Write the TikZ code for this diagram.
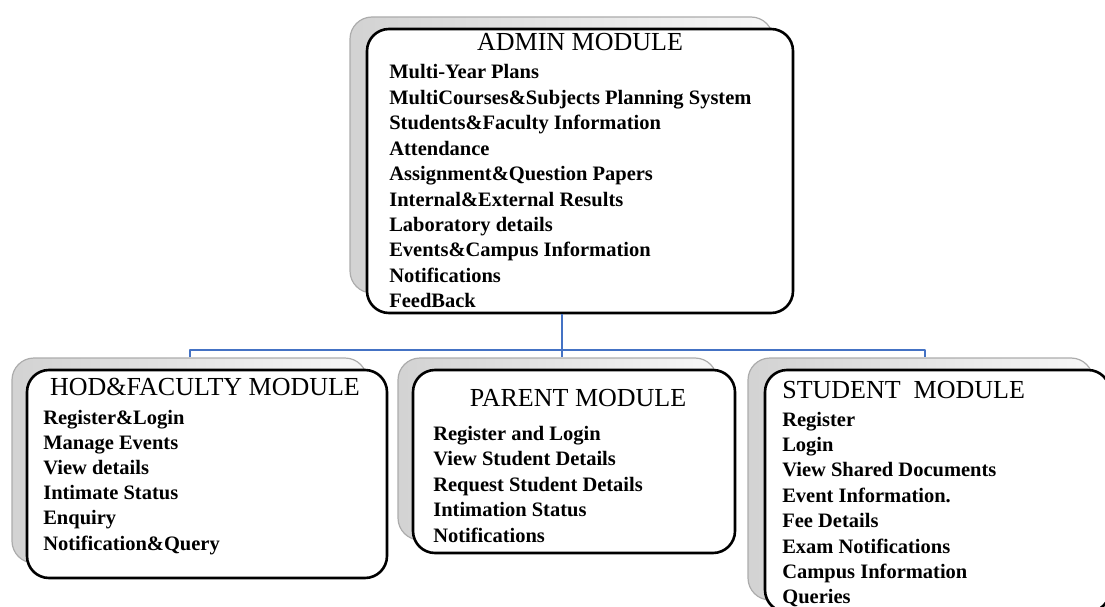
\documentclass[tikz,border=0pt]{standalone}
\usepackage{fontspec}
\setmainfont{Liberation Serif}
\definecolor{linkblue}{RGB}{68,114,196}

\begin{document}
\begin{tikzpicture}[x=1pt,y=-1pt,line join=round,
                    semithick]
  \tikzstyle{module}=[draw=black,line width=2.6pt,fill=white,rounded corners=22pt,inner sep=0pt]
  \tikzstyle{back}=[draw=gray!65,line width=1.2pt,left color=gray!35,right color=gray!6,rounded corners=22pt,inner sep=0pt]
  \tikzstyle{heading}=[anchor=base,inner sep=0pt,font=\fontsize{26}{26}\selectfont]
  \tikzstyle{entry}=[anchor=base west,inner sep=0pt,font=\fontsize{20.5}{20.5}\selectfont\bfseries]
  \tikzstyle{link}=[draw=linkblue,line width=2.4pt]

  \useasboundingbox (0,0) rectangle (1105,607);
  \clip (0,0) rectangle (1105,607);

  % boxes, each with its grey back plate
  \node[back,minimum width=423pt,minimum height=276pt]   (adminback) at (561.5,155)   {};
  \node[module,minimum width=426pt,minimum height=284pt] (admin)     at (580,171)     {};
  \node[back,minimum width=355pt,minimum height=205pt]   (hodback)   at (189.5,460.5) {};
  \node[module,minimum width=360pt,minimum height=208pt] (hod)       at (207,474)     {};
  \node[back,minimum width=319pt,minimum height=182pt]   (parback)   at (557.5,449)   {};
  \node[module,minimum width=322pt,minimum height=183pt] (parent)    at (574,461.5)   {};
  \node[back,minimum width=345pt,minimum height=242pt]   (stuback)   at (920.5,479)   {};
  \node[module,minimum width=345pt,minimum height=242pt] (student)   at (937.5,491)   {};

  % titles
  \node[heading]                  (admintitle) at (580,51)  {ADMIN MODULE};
  \node[heading]                  (hodtitle)   at (205,395) {HOD\&FACULTY MODULE};
  \node[heading]                  (partitle)   at (578,406) {PARENT MODULE};
  \node[heading,anchor=base west] (stutitle)   at (782,398) {STUDENT\ \ MODULE};

  % entries
  \foreach \t [count=\i] in {Multi-Year Plans,MultiCourses\&Subjects Planning System,
      Students\&Faculty Information,Attendance,Assignment\&Question Papers,
      Internal\&External Results,Laboratory details,Events\&Campus Information,
      Notifications,FeedBack}
    \node[entry] (admin-\i) at (389,{79+25.4*(\i-1)}) {\t};
  \foreach \t [count=\i] in {Register\&Login,Manage Events,View details,
      Intimate Status,Enquiry,Notification\&Query}
    \node[entry] (hod-\i) at (43,{424+25.2*(\i-1)}) {\t};
  \foreach \t [count=\i] in {Register and Login,View Student Details,
      Request Student Details,Intimation Status,Notifications}
    \node[entry] (parent-\i) at (433,{440+25.5*(\i-1)}) {\t};
  \foreach \t [count=\i] in {Register,Login,View Shared Documents,Event Information.,
      Fee Details,Exam Notifications,Campus Information,Queries}
    \node[entry] (student-\i) at (782,{426+25.4*(\i-1)}) {\t};

  % connectors
  \coordinate (hub)    at (562,350);
  \coordinate (hodtap) at (190,350);
  \coordinate (stutap) at (925,350);
  \path[link] (admin.south -| hub) -- (hub)
              (hodback.north -| hodtap) -- (hodtap) -- (stutap) -- (stutap |- stuback.north)
              (hub) -- (hub |- parback.north);
\end{tikzpicture}
\end{document}
